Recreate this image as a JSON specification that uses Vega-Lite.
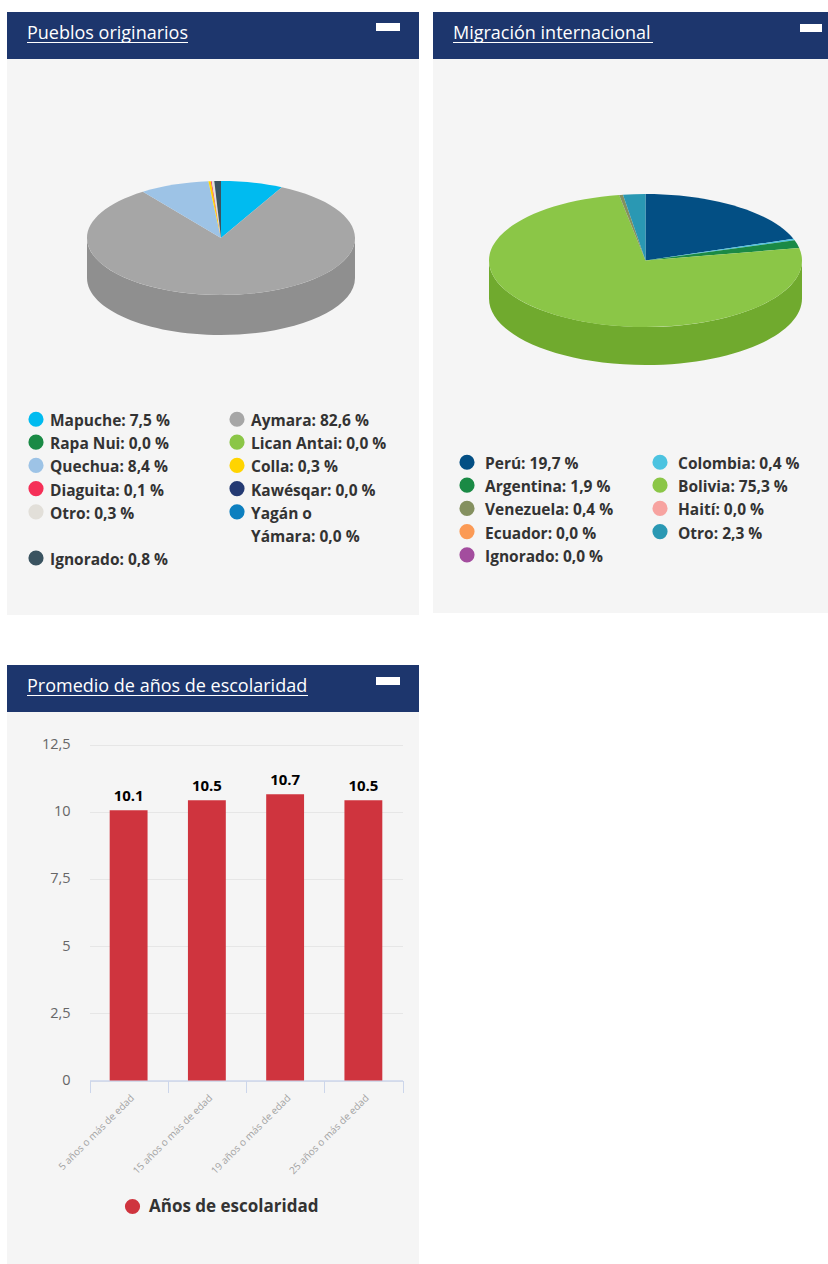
{
"$schema":"https://vega.github.io/schema/vega-lite/v6.json",
"padding":{"left":7,"top":12,"right":0,"bottom":0},
"background":"#ffffff",
"config":{"view":{"stroke":null},"font":"Open Sans","concat":{"spacing":0}},
"datasets":{
"pueblos":[
{"pueblo":"Mapuche","valor":7.5,"etiqueta":"Mapuche: 7,5 %"},
{"pueblo":"Aymara","valor":82.6,"etiqueta":"Aymara: 82,6 %"},
{"pueblo":"Rapa Nui","valor":0.0,"etiqueta":"Rapa Nui: 0,0 %"},
{"pueblo":"Lican Antai","valor":0.0,"etiqueta":"Lican Antai: 0,0 %"},
{"pueblo":"Quechua","valor":8.4,"etiqueta":"Quechua: 8,4 %"},
{"pueblo":"Colla","valor":0.3,"etiqueta":"Colla: 0,3 %"},
{"pueblo":"Diaguita","valor":0.1,"etiqueta":"Diaguita: 0,1 %"},
{"pueblo":"Kawésqar","valor":0.0,"etiqueta":"Kawésqar: 0,0 %"},
{"pueblo":"Otro","valor":0.3,"etiqueta":"Otro: 0,3 %"},
{"pueblo":"Yagán o Yámara","valor":0.0,"etiqueta":"Yagán o Yámara: 0,0 %"},
{"pueblo":"Ignorado","valor":0.8,"etiqueta":"Ignorado: 0,8 %"}
],
"migracion":[
{"pais":"Perú","valor":19.7,"etiqueta":"Perú: 19,7 %"},
{"pais":"Colombia","valor":0.4,"etiqueta":"Colombia: 0,4 %"},
{"pais":"Argentina","valor":1.9,"etiqueta":"Argentina: 1,9 %"},
{"pais":"Bolivia","valor":75.3,"etiqueta":"Bolivia: 75,3 %"},
{"pais":"Venezuela","valor":0.4,"etiqueta":"Venezuela: 0,4 %"},
{"pais":"Haití","valor":0.0,"etiqueta":"Haití: 0,0 %"},
{"pais":"Ecuador","valor":0.0,"etiqueta":"Ecuador: 0,0 %"},
{"pais":"Otro","valor":2.3,"etiqueta":"Otro: 2,3 %"},
{"pais":"Ignorado","valor":0.0,"etiqueta":"Ignorado: 0,0 %"}
],
"escolaridad":[
{"grupo":"5 años o más de edad","anios":10.05,"rotulo":"10.1","serie":"Años de escolaridad"},
{"grupo":"15 años o más de edad","anios":10.43,"rotulo":"10.5","serie":"Años de escolaridad"},
{"grupo":"19 años o más de edad","anios":10.65,"rotulo":"10.7","serie":"Años de escolaridad"},
{"grupo":"25 años o más de edad","anios":10.43,"rotulo":"10.5","serie":"Años de escolaridad"}
]
},
"spacing":50,
"resolve":{"scale":{"color":"independent","shape":"independent"},"legend":{"color":"independent"}},
"vconcat":[
{"spacing":14,"resolve":{"scale":{"color":"independent","shape":"independent"},"legend":{"color":"independent"}},"hconcat":[
{"spacing":0,"vconcat":[
{"width":412,"height":47,"view":{"fill":"#1d366d","stroke":null},"data":{"values":[{"titulo":"Pueblos originarios"}]},
"layer":[
{"mark":{"type":"text","align":"left","baseline":"middle","color":"#ffffff","fontSize":18},"encoding":{"text":{"field":"titulo"},"x":{"datum":20,"type":"quantitative","scale":{"domain":[0,412],"range":[0,412],"nice":false},"axis":null},"y":{"datum":22,"type":"quantitative","scale":{"domain":[0,47],"range":[0,47],"nice":false},"axis":null}}},
{"mark":{"type":"rule","color":"#ffffff","strokeWidth":1},"encoding":{"x":{"datum":20,"type":"quantitative"},"x2":{"datum":181},"y":{"datum":30.5,"type":"quantitative"}}},
{"mark":{"type":"rule","color":"#ffffff","strokeWidth":8},"encoding":{"x":{"datum":369,"type":"quantitative"},"x2":{"datum":393},"y":{"datum":15,"type":"quantitative"}}}
]},
{"width":412,"height":556,"view":{"fill":"#f5f5f5","stroke":null},"data":{"name":"pueblos"},
"layer":[
{"transform":[{"filter":"datum.pueblo === 'Aymara'"}],"mark":{"type":"point","filled":true,"opacity":1,"size":4,"strokeWidth":0,"color":"#8f8f8f","shape":"M142,-99A134,57,0,0,1,-126,-99L-126,-59A134,57,0,0,0,142,-59Z"}},
{"mark":{"type":"point","filled":true,"opacity":1,"size":4,"strokeWidth":0},
"encoding":{
"color":{"field":"etiqueta","type":"nominal","scale":{"domain":["Mapuche: 7,5 %","Aymara: 82,6 %","Rapa Nui: 0,0 %","Lican Antai: 0,0 %","Quechua: 8,4 %","Colla: 0,3 %","Diaguita: 0,1 %","Kawésqar: 0,0 %","Otro: 0,3 %","Yagán o Yámara: 0,0 %","Ignorado: 0,8 %"],"range":["#00bbf0","#a6a6a6","#1a8a45","#8bc647","#9dc3e6","#ffd400","#f52f57","#243a73","#e2dfd9","#0d7fbf","#3a5360"]},
"legend":{"orient":"none","direction":"horizontal","legendX":21,"legendY":399,"title":null,"columns":2,"symbolType":"circle","symbolSize":230,"symbolStrokeWidth":0,"labelFont":"Open Sans","labelFontSize":15.5,"labelFontWeight":"bold","labelColor":"#333333","labelLimit":300,"labelOffset":6,"columnPadding":59,"rowPadding":4.2,"gridAlign":"each","labelExpr":"split(replace(datum.label,'Yagán o ','Yagán o|'),'|')","labelBaseline":"top","encoding":{"labels":{"dy":{"value":-5},"lineHeight":{"value":23}}}}},
"shape":{"field":"pueblo","type":"nominal","legend":null,"scale":{"domain":["Mapuche","Aymara","Rapa Nui","Lican Antai","Quechua","Colla","Diaguita","Kawésqar","Otro","Yagán o Yámara","Ignorado"],"range":[
"M8,-99L8,-156A134,57,0,0,1,68.83,-149.79Z",
"M8,-99L68.83,-149.79A134,57,0,1,1,-70.08,-145.32Z",
"M8,-99Z",
"M8,-99Z",
"M8,-99L-70.08,-145.32A134,57,0,0,1,-4.61,-155.75Z",
"M8,-99L-4.61,-155.75A134,57,0,0,1,-2.09,-155.84Z",
"M8,-99L-2.09,-155.84A134,57,0,0,1,-1.25,-155.86Z",
"M8,-99Z",
"M8,-99L-1.25,-155.86A134,57,0,0,1,1.27,-155.93Z",
"M8,-99Z",
"M8,-99L1.27,-155.93A134,57,0,0,1,8,-156Z"
]}}
}}
]}
]},
{"spacing":0,"vconcat":[
{"width":395,"height":47,"view":{"fill":"#1d366d","stroke":null},"data":{"values":[{"titulo":"Migración internacional"}]},
"layer":[
{"mark":{"type":"text","align":"left","baseline":"middle","color":"#ffffff","fontSize":18},"encoding":{"text":{"field":"titulo"},"x":{"datum":20,"type":"quantitative","scale":{"domain":[0,395],"range":[0,395],"nice":false},"axis":null},"y":{"datum":22,"type":"quantitative","scale":{"domain":[0,47],"range":[0,47],"nice":false},"axis":null}}},
{"mark":{"type":"rule","color":"#ffffff","strokeWidth":1},"encoding":{"x":{"datum":20,"type":"quantitative"},"x2":{"datum":220},"y":{"datum":30.5,"type":"quantitative"}}},
{"mark":{"type":"rule","color":"#ffffff","strokeWidth":8},"encoding":{"x":{"datum":367,"type":"quantitative"},"x2":{"datum":389},"y":{"datum":16,"type":"quantitative"}}}
]},
{"width":395,"height":554,"view":{"fill":"#f5f5f5","stroke":null},"data":{"name":"migracion"},
"layer":[
{"transform":[{"filter":"datum.pais === 'Bolivia'"}],"mark":{"type":"point","filled":true,"opacity":1,"size":4,"strokeWidth":0,"color":"#70aa2e","shape":"M171.5,-75.5A156.5,66.5,0,0,1,-141.5,-75.5L-141.5,-37.5A156.5,66.5,0,0,0,171.5,-37.5Z"}},
{"mark":{"type":"point","filled":true,"opacity":1,"size":4,"strokeWidth":0},
"encoding":{
"color":{"field":"etiqueta","type":"nominal","scale":{"domain":["Perú: 19,7 %","Colombia: 0,4 %","Argentina: 1,9 %","Bolivia: 75,3 %","Venezuela: 0,4 %","Haití: 0,0 %","Ecuador: 0,0 %","Otro: 2,3 %","Ignorado: 0,0 %"],"range":["#034f84","#4cc3e0","#1a8a45","#8bc647","#84905f","#f7a3a0","#fb9a55","#2a98b3","#a34d9e"]},
"legend":{"orient":"none","direction":"horizontal","legendX":26,"legendY":442,"title":null,"columns":2,"symbolType":"circle","symbolSize":230,"symbolStrokeWidth":0,"labelFont":"Open Sans","labelFontSize":15.5,"labelFontWeight":"bold","labelColor":"#333333","labelLimit":300,"labelOffset":10,"columnPadding":38,"rowPadding":4.2,"gridAlign":"each","labelBaseline":"top","encoding":{"labels":{"dy":{"value":-5}}}}},
"shape":{"field":"pais","type":"nominal","legend":null,"scale":{"domain":["Perú","Colombia","Argentina","Bolivia","Venezuela","Haití","Ecuador","Otro","Ignorado"],"range":[
"M15,-75.5L15,-142A156.5,66.5,0,0,1,162.9,-97.24Z",
"M15,-75.5L162.9,-97.24A156.5,66.5,0,0,1,164.14,-95.65Z",
"M15,-75.5L164.14,-95.65A156.5,66.5,0,0,1,168.73,-87.96Z",
"M15,-75.5L168.73,-87.96A156.5,66.5,0,1,1,-11.42,-141.05Z",
"M15,-75.5L-11.42,-141.05A156.5,66.5,0,0,1,-7.54,-141.31Z",
"M15,-75.5Z",
"M15,-75.5Z",
"M15,-75.5L-7.54,-141.31A156.5,66.5,0,0,1,15,-142Z",
"M15,-75.5Z"
]}}
}}
]}
]}
]},
{"spacing":0,"vconcat":[
{"width":412,"height":47,"view":{"fill":"#1d366d","stroke":null},"data":{"values":[{"titulo":"Promedio de años de escolaridad"}]},
"layer":[
{"mark":{"type":"text","align":"left","baseline":"middle","color":"#ffffff","fontSize":18},"encoding":{"text":{"field":"titulo"},"x":{"datum":20,"type":"quantitative","scale":{"domain":[0,412],"range":[0,412],"nice":false},"axis":null},"y":{"datum":22,"type":"quantitative","scale":{"domain":[0,47],"range":[0,47],"nice":false},"axis":null}}},
{"mark":{"type":"rule","color":"#ffffff","strokeWidth":1},"encoding":{"x":{"datum":20,"type":"quantitative"},"x2":{"datum":301},"y":{"datum":30.5,"type":"quantitative"}}},
{"mark":{"type":"rule","color":"#ffffff","strokeWidth":8},"encoding":{"x":{"datum":369,"type":"quantitative"},"x2":{"datum":393},"y":{"datum":16,"type":"quantitative"}}}
]},
{"width":412,"height":552,"view":{"fill":"#f5f5f5","stroke":null},"data":{"name":"escolaridad"},
"encoding":{
"x":{"field":"grupo","type":"nominal","sort":null,"title":null,"scale":{"range":[82.5,395.5],"paddingInner":0,"paddingOuter":0},
"axis":{"offset":-183.5,"orient":"bottom","labelAngle":-45,"labelFontSize":10,"labelColor":"#a3a3a3","tickBand":"extent","tickSize":12,"tickColor":"#ccd6eb","domainColor":"#ccd6eb","domainWidth":1.5,"labelPadding":0,"labelLimit":200}},
"y":{"field":"anios","type":"quantitative","title":null,"scale":{"domain":[0,12.5],"range":[368.5,32.5],"nice":false},
"axis":{"values":[0,2.5,5,7.5,10,12.5],"labelExpr":"replace(''+datum.value,'.',',')","offset":-63,"domain":false,"ticks":false,"labelPadding":0,"labelColor":"#666666","labelFontSize":14.5,"grid":true,"gridColor":"#e6e6e6"}}
},
"layer":[
{"mark":{"type":"bar","width":{"band":0.484}},"encoding":{"color":{"field":"serie","type":"nominal","scale":{"range":["#cf343e"]},"legend":{"orient":"none","legendX":117,"legendY":533,"title":null,"symbolType":"circle","symbolSize":230,"labelFont":"Open Sans","labelFontSize":17,"labelFontWeight":"bold","labelColor":"#333333","labelLimit":300,"labelOffset":8}}}},
{"mark":{"type":"text","baseline":"bottom","dy":-6,"fontSize":15,"fontWeight":"bold","color":"#000000"},"encoding":{"text":{"field":"rotulo"}}}
]}
]}
]
}
